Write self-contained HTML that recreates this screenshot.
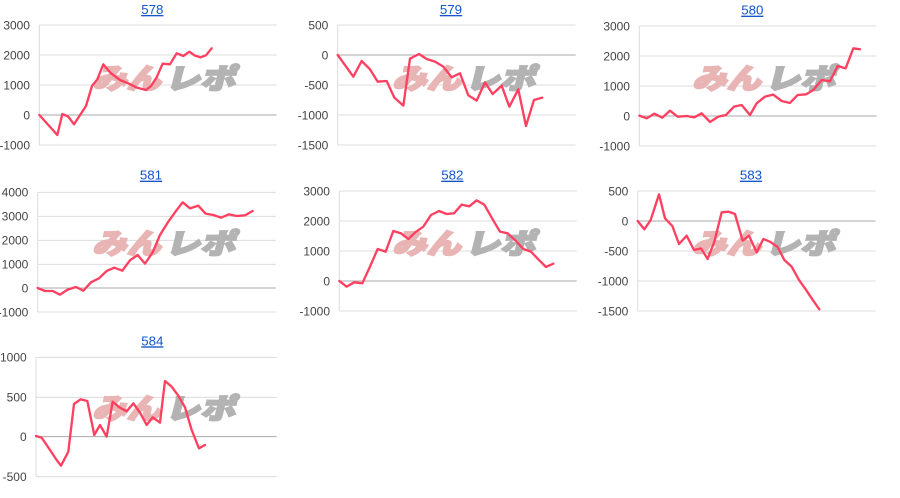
<!DOCTYPE html>
<html><head><meta charset="utf-8"><style>
html,body{margin:0;padding:0;background:#fff;width:900px;height:498px;overflow:hidden}
svg text{font-family:"Liberation Sans","Noto Sans CJK JP",sans-serif}
.g{stroke:#dcdcdc;stroke-width:3}
.z{stroke:#a8a8a8;stroke-width:3}
.l{fill:#444;font-size:36px;text-anchor:end}
.t{fill:#1155cc;font-size:40px;text-anchor:middle;text-decoration:underline}
.s{fill:none;stroke:#ff4060;stroke-width:7;stroke-linejoin:round;stroke-linecap:round}
.w1{fill:#e8b4b4;stroke:#e8b4b4;stroke-width:6;font-size:84px;font-weight:900;font-family:"Noto Sans CJK JP",sans-serif}
.w2{fill:#b3b3b3;stroke:#b3b3b3;stroke-width:6;font-size:84px;font-weight:900;font-family:"Noto Sans CJK JP",sans-serif}
</style></head><body>
<svg width="900" height="498" viewBox="0 0 900 498" xmlns="http://www.w3.org/2000/svg">
<defs>
<g id="wm"><g transform="translate(60,0) skewX(-14)"><text class="w1" x="284" y="266" textLength="205" lengthAdjust="spacingAndGlyphs">みん</text><text class="w2" x="502" y="266" textLength="210" lengthAdjust="spacingAndGlyphs">レポ</text></g></g>
</defs>

<!-- 578 -->
<g transform="translate(0,0) scale(0.3333)">
<text class="t" x="457" y="42">578</text>
<line class="g" x1="118" y1="75" x2="830" y2="75"/><line class="g" x1="118" y1="165" x2="830" y2="165"/><line class="g" x1="118" y1="255" x2="830" y2="255"/><line class="g" x1="118" y1="435" x2="830" y2="435"/>
<line class="g" x1="118" y1="75" x2="118" y2="435"/><line class="z" x1="118" y1="345" x2="830" y2="345"/>
<text class="l" x="90" y="88">3000</text><text class="l" x="90" y="178">2000</text><text class="l" x="90" y="268">1000</text><text class="l" x="90" y="358">0</text><text class="l" x="90" y="448">-1000</text>
<use href="#wm"/>
<polyline class="s" points="118,345 172,405 187,342 205,350 222,373 258,318 276,258 292,238 310,193 333,220 360,240 385,250 408,262 438,270 453,258 470,232 488,191 510,193 530,160 550,168 568,155 585,167 602,172 618,166 635,145"/>
</g>

<!-- 579 -->
<g transform="translate(300,0) scale(0.3333)">
<text class="t" x="453" y="42">579</text>
<line class="g" x1="113" y1="75" x2="827" y2="75"/><line class="g" x1="113" y1="255" x2="827" y2="255"/><line class="g" x1="113" y1="345" x2="827" y2="345"/><line class="g" x1="113" y1="435" x2="827" y2="435"/>
<line class="g" x1="113" y1="75" x2="113" y2="435"/><line class="z" x1="113" y1="165" x2="827" y2="165"/>
<text class="l" x="85" y="88">500</text><text class="l" x="85" y="178">0</text><text class="l" x="85" y="268">-500</text><text class="l" x="85" y="358">-1000</text><text class="l" x="85" y="448">-1500</text>
<use href="#wm"/>
<polyline class="s" points="113,165 160,230 185,183 210,208 233,245 260,243 283,293 310,317 330,176 357,162 380,177 405,185 430,200 455,232 480,220 505,286 530,302 555,247 578,282 605,257 628,320 655,268 678,378 702,300 727,293"/>
</g>

<!-- 580 -->
<g transform="translate(600,0) scale(0.3333)">
<text class="t" x="457" y="44">580</text>
<line class="g" x1="118" y1="78" x2="830" y2="78"/><line class="g" x1="118" y1="168" x2="830" y2="168"/><line class="g" x1="118" y1="258" x2="830" y2="258"/><line class="g" x1="118" y1="438" x2="830" y2="438"/>
<line class="g" x1="118" y1="78" x2="118" y2="438"/><line class="z" x1="118" y1="348" x2="830" y2="348"/>
<text class="l" x="90" y="91">3000</text><text class="l" x="90" y="181">2000</text><text class="l" x="90" y="271">1000</text><text class="l" x="90" y="361">0</text><text class="l" x="90" y="451">-1000</text>
<use href="#wm"/>
<polyline class="s" points="118,347 140,355 163,341 187,353 210,332 233,350 260,348 283,352 305,340 330,366 355,350 378,345 402,320 425,315 450,345 470,310 495,290 520,284 545,303 570,309 593,285 618,283 640,270 665,240 690,244 713,198 737,205 760,145 780,148"/>
</g>

<!-- 581 -->
<g transform="translate(0,165) scale(0.3333)">
<text class="t" x="453" y="44">581</text>
<line class="g" x1="113" y1="82" x2="827" y2="82"/><line class="g" x1="113" y1="154" x2="827" y2="154"/><line class="g" x1="113" y1="226" x2="827" y2="226"/><line class="g" x1="113" y1="298" x2="827" y2="298"/><line class="g" x1="113" y1="441" x2="827" y2="441"/>
<line class="g" x1="113" y1="82" x2="113" y2="441"/><line class="z" x1="113" y1="369" x2="827" y2="369"/>
<text class="l" x="85" y="95">4000</text><text class="l" x="85" y="167">3000</text><text class="l" x="85" y="239">2000</text><text class="l" x="85" y="311">1000</text><text class="l" x="85" y="382">0</text><text class="l" x="85" y="454">-1000</text>
<use href="#wm"/>
<polyline class="s" points="113,369 135,378 158,378 180,389 203,374 228,366 250,377 273,352 297,340 320,318 343,308 367,317 390,286 413,270 435,296 458,262 480,210 505,170 528,138 548,112 570,130 595,122 617,146 640,150 663,158 687,148 710,153 735,151 758,138"/>
</g>

<!-- 582 -->
<g transform="translate(300,165) scale(0.3333)">
<text class="t" x="457" y="44">582</text>
<line class="g" x1="118" y1="78" x2="830" y2="78"/><line class="g" x1="118" y1="168" x2="830" y2="168"/><line class="g" x1="118" y1="258" x2="830" y2="258"/><line class="g" x1="118" y1="438" x2="830" y2="438"/>
<line class="g" x1="118" y1="78" x2="118" y2="438"/><line class="z" x1="118" y1="348" x2="830" y2="348"/>
<text class="l" x="90" y="91">3000</text><text class="l" x="90" y="181">2000</text><text class="l" x="90" y="271">1000</text><text class="l" x="90" y="361">0</text><text class="l" x="90" y="451">-1000</text>
<use href="#wm"/>
<polyline class="s" points="118,348 140,365 163,352 187,355 210,305 233,252 257,260 280,198 303,205 325,222 348,200 370,185 393,150 417,138 440,147 462,145 485,119 508,124 530,106 553,119 578,163 600,200 623,205 645,225 670,252 693,260 715,283 738,306 760,296"/>
</g>

<!-- 583 -->
<g transform="translate(600,165) scale(0.3333)">
<text class="t" x="453" y="44">583</text>
<line class="g" x1="113" y1="78" x2="827" y2="78"/><line class="g" x1="113" y1="258" x2="827" y2="258"/><line class="g" x1="113" y1="348" x2="827" y2="348"/><line class="g" x1="113" y1="438" x2="827" y2="438"/>
<line class="g" x1="113" y1="78" x2="113" y2="438"/><line class="z" x1="113" y1="168" x2="827" y2="168"/>
<text class="l" x="85" y="91">500</text><text class="l" x="85" y="181">0</text><text class="l" x="85" y="271">-500</text><text class="l" x="85" y="361">-1000</text><text class="l" x="85" y="451">-1500</text>
<use href="#wm"/>
<polyline class="s" points="113,168 133,193 152,165 177,88 195,160 217,183 237,237 260,212 282,255 303,250 323,282 343,230 365,142 385,140 405,147 428,227 447,212 470,262 490,222 510,230 533,246 553,285 575,305 597,345 617,373 637,403 658,433"/>
</g>

<!-- 584 -->
<g transform="translate(0,330) scale(0.3333)">
<text class="t" x="457" y="46">584</text>
<line class="g" x1="108" y1="82" x2="830" y2="82"/><line class="g" x1="108" y1="202" x2="830" y2="202"/><line class="g" x1="108" y1="440" x2="830" y2="440"/>
<line class="g" x1="108" y1="82" x2="108" y2="440"/><line class="z" x1="108" y1="320" x2="830" y2="320"/>
<text class="l" x="80" y="95">1000</text><text class="l" x="80" y="215">500</text><text class="l" x="80" y="333">0</text><text class="l" x="80" y="453">-500</text>
<use href="#wm"/>
<polyline class="s" points="108,318 125,323 150,360 170,390 183,407 205,365 222,222 242,208 262,213 283,315 300,285 320,320 338,215 358,232 380,244 400,220 420,248 440,285 458,262 480,278 495,153 515,170 535,197 555,232 575,300 597,355 615,345"/>
</g>
</svg>
</body></html>
